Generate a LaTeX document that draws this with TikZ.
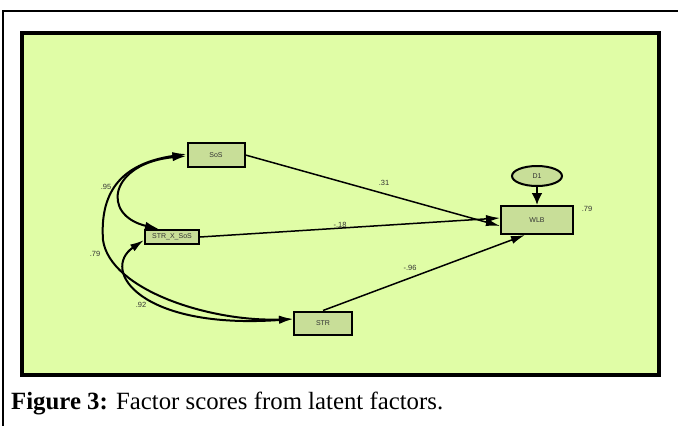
\documentclass[tikz,border=0pt]{standalone}
\usepackage{fontspec}
\setmainfont{Liberation Serif}
\newfontfamily\labelfont{Liberation Sans}
\usetikzlibrary{arrows.meta,shapes.geometric}
\definecolor{panel}{HTML}{E0FDA6}
\definecolor{boxfill}{HTML}{C8DE98}
\definecolor{labelgrey}{HTML}{333333}
\tikzset{
  varbox/.style={draw=black, line width=2pt, fill=boxfill, inner sep=0pt,
    font=\labelfont\fontsize{7}{8}\selectfont, text=labelgrey},
  errnode/.style={ellipse, draw=black, line width=2pt, fill=boxfill, inner sep=0pt,
    minimum width=50pt, minimum height=20pt,
    font=\labelfont\fontsize{7}{8}\selectfont, text=labelgrey},
  coef/.style={font=\labelfont\fontsize{7.5}{8}\selectfont, text=labelgrey, inner sep=0pt},
  path/.style={line width=1.5pt, -{Latex[length=14pt,width=8pt]}},
  cov/.style={line width=2pt, {Latex[length=14pt,width=8pt]}-{Latex[length=14pt,width=8pt]}},
}
\begin{document}
\begin{tikzpicture}[x=1pt,y=-1pt]
\useasboundingbox (0,0) rectangle (678,426);
% outer frame edges
\draw[line width=1.2pt] (3,426) -- (3,11) -- (678,11);
% coloured panel
\draw[line width=4pt, fill=panel] (22,33) rectangle (659,375);

% observed variables
\node[varbox, minimum width=57pt, minimum height=24pt] (sos) at (216,155) {SoS};
\node[varbox, minimum width=54pt, minimum height=14pt] (sxs) at (172,237) {STR\_X\_SoS};
\node[varbox, minimum width=58pt, minimum height=23pt] (str) at (323,323) {STR};
\node[varbox, minimum width=72pt, minimum height=28pt] (wlb) at (537,220) {WLB};
\node[errnode] (d1) at (537,176) {D1};

% regression paths
\draw[path] (sos.east) -- ([yshift=-6pt]wlb.west);
\draw[path] (sxs.east) -- ([yshift=2pt]wlb.west);
\draw[path] (str.north) -- ([xshift=-12pt]wlb.south);
\draw[line width=2.5pt, -{Latex[length=12pt,width=11pt]}] (d1.south) -- (wlb.north);

% covariances
\draw[cov] ([yshift=-1pt]sos.west) .. controls (110,163) and (100,215) .. ([xshift=-13pt]sxs.north);
\draw[cov] ([yshift=1pt]sos.west) .. controls (118,164) and (100,195) .. (103,240)
  .. controls (110,290) and (210,322) .. ([yshift=4pt]str.west);
\draw[cov] ([yshift=-3pt]sxs.west) .. controls (100,270) and (140,330) .. ([yshift=4pt]str.west);

% coefficients
\node[coef] (c95) at (106,187) {.95};
\node[coef] (c79) at (95,254) {.79};
\node[coef] (c92) at (141,305) {.92};
\node[coef] (c31) at (384,183) {.31};
\node[coef] (c18) at (340,225) {-.18};
\node[coef] (c96) at (410,268) {-.96};
\node[coef] (r2) at (587,209) {.79};

% caption
\node[anchor=base west, inner sep=0pt, font=\fontsize{24.8}{28}\selectfont] (cap) at (11,409)
  {\textbf{Figure 3:} Factor scores from latent factors.};
\end{tikzpicture}
\end{document}
